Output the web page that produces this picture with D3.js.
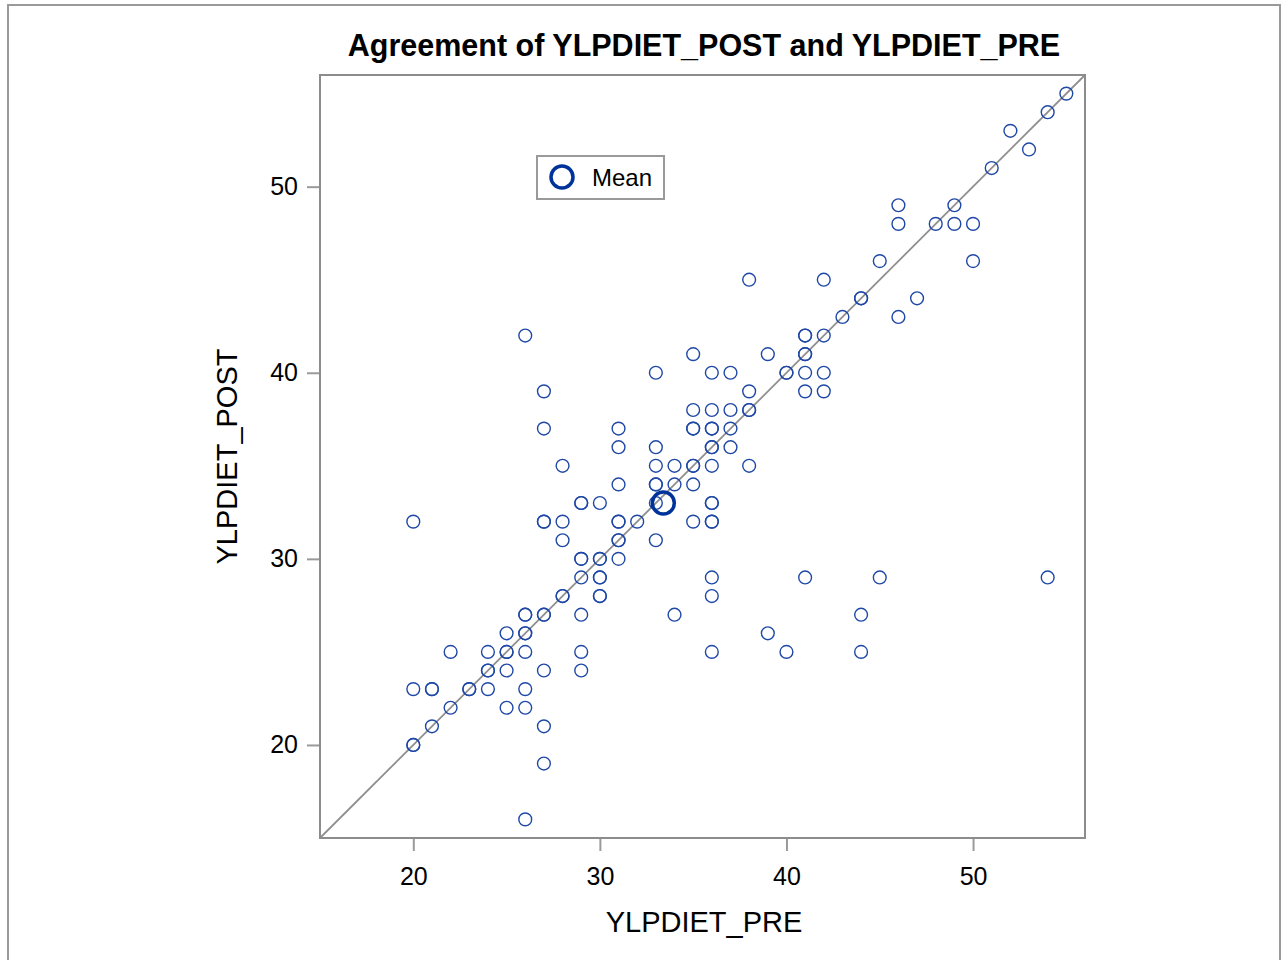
<!DOCTYPE html>
<html>
<head>
<meta charset="utf-8">
<script src="https://cdn.jsdelivr.net/npm/d3@7"></script>
<style>
  body { margin: 0; background: #fff; }
  svg text { font-family: "Liberation Sans", Arial, sans-serif; fill: #000; }
</style>
</head>
<body>
<svg id="chart" width="1288" height="960"></svg>
<script>
// values (bold rings = two overlapping subjects)
var pre = [55,54,52,53,51, 46,49, 46,48,49,50, 45,50, 38,42, 44,44,47, 43,46,
  26,41,41,42, 35,39,41,41, 33,36,37,40,40,41,42, 27,38,41,42, 35,36,37,38,38,
  27,31,35,35,36,36,37, 31,33,36,36,37, 28,33,34,35,35,36,38, 31,33,33,34,35,
  29,29,30,33,36,36, 20,27,27,28,31,31,32,35,36,36, 28,31,31,33, 29,29,30,30,31,
  29,30,30,36,41,45,54, 28,28,30,30,36, 26,26,27,27,29,34,44, 25,26,26,39,
  22,24,25,25,26,29,36,40,44, 24,24,25,27,29, 20,21,21,23,23,24,26, 22,25,26,
  21,27, 20,20, 27, 26]
var post = [55,54,53,52,51, 49,49, 48,48,48,48, 46,46, 45,45, 44,44,44, 43,43,
  42,42,42,42, 41,41,41,41, 40,40,40,40,40,40,40, 39,39,39,39, 38,38,38,38,38,
  37,37,37,37,37,37,37, 36,36,36,36,36, 35,35,35,35,35,35,35, 34,34,34,34,34,
  33,33,33,33,33,33, 32,32,32,32,32,32,32,32,32,32, 31,31,31,31, 30,30,30,30,30,
  29,29,29,29,29,29,29, 28,28,28,28,28, 27,27,27,27,27,27,27, 26,26,26,26,
  25,25,25,25,25,25,25,25,25, 24,24,24,24,24, 23,23,23,23,23,23,23, 22,22,22,
  21,21, 20,20, 19, 16]
var meanPre = [33.4]
var meanPost = [33.0]
var xTicks = [20, 30, 40, 50]
var yTicks = [20, 30, 40, 50]
var diag = [15, 56]

var svg = d3.select("#chart")
var margin = {top: 75, right: 203, bottom: 122, left: 320}
var width = 1288, height = 960

var x = d3.scaleLinear().domain([15, 56]).range([margin.left, width - margin.right])
var y = d3.scaleLinear().domain([15, 56]).range([height - margin.bottom, margin.top])

var points = pre.map((d, i) => ({pre: d, post: post[i]}))

// outer frame of the graph
svg.append("rect")
  .attr("x", 8).attr("y", 5)
  .attr("width", 1272).attr("height", 1000)
  .attr("fill", "none").attr("stroke", "#9a9a9a").attr("stroke-width", 2)

// title
svg.append("text")
  .attr("x", 704).attr("y", 56)
  .attr("text-anchor", "middle")
  .attr("font-weight", "bold")
  .attr("font-size", 30.5)
  .text("Agreement of YLPDIET_POST and YLPDIET_PRE")

// line of equality
svg.append("line")
  .attr("x1", x(diag[0])).attr("y1", y(diag[0]))
  .attr("x2", x(diag[1])).attr("y2", y(diag[1]))
  .attr("stroke", "#8f8f8f").attr("stroke-width", 1.8)

// subjects
svg.append("g")
  .selectAll("circle")
  .data(points)
  .join("circle")
    .attr("cx", d => x(d.pre))
    .attr("cy", d => y(d.post))
    .attr("r", 6.4)
    .attr("fill", "none")
    .attr("stroke", "#1f48a6")
    .attr("stroke-width", 1.4)

// mean marker
svg.append("g")
  .selectAll("circle")
  .data(meanPre)
  .join("circle")
    .attr("cx", d => x(d))
    .attr("cy", (d, i) => y(meanPost[i]))
    .attr("r", 11)
    .attr("fill", "none")
    .attr("stroke", "#003399")
    .attr("stroke-width", 3.5)

// axes
var xAxis = svg.append("g")
  .attr("transform", `translate(0,${height - margin.bottom})`)
  .call(d3.axisBottom(x).tickValues(xTicks).tickSize(13).tickPadding(16))
var yAxis = svg.append("g")
  .attr("transform", `translate(${margin.left},0)`)
  .call(d3.axisLeft(y).tickValues(yTicks).tickSize(13).tickPadding(9))

;[xAxis, yAxis].forEach(g => {
  g.select(".domain").remove()
  g.selectAll(".tick line").attr("stroke", "#9a9a9a").attr("stroke-width", 2)
  g.selectAll(".tick text").attr("font-size", 25).attr("fill", "#000")
    .attr("font-family", "Liberation Sans, Arial, sans-serif")
})

// plot frame
svg.append("rect")
  .attr("x", margin.left).attr("y", margin.top)
  .attr("width", width - margin.right - margin.left)
  .attr("height", height - margin.bottom - margin.top)
  .attr("fill", "none").attr("stroke", "#8c8c8c").attr("stroke-width", 2)

// axis labels
svg.append("text")
  .attr("x", 704).attr("y", 932)
  .attr("text-anchor", "middle")
  .attr("font-size", 29)
  .text("YLPDIET_PRE")

svg.append("text")
  .attr("transform", `translate(237,${(y(15) + y(56)) / 2}) rotate(-90)`)
  .attr("text-anchor", "middle")
  .attr("font-size", 29)
  .text("YLPDIET_POST")

// legend
var legend = svg.append("g").attr("transform", "translate(537,156)")
legend.append("rect")
  .attr("width", 127).attr("height", 43)
  .attr("fill", "#fff").attr("stroke", "#9a9a9a").attr("stroke-width", 2)
legend.append("circle")
  .attr("cx", 25).attr("cy", 21)
  .attr("r", 11)
  .attr("fill", "none").attr("stroke", "#003399").attr("stroke-width", 3.5)
legend.append("text")
  .attr("x", 55).attr("y", 30)
  .attr("font-size", 24)
  .text("Mean")
</script>
</body>
</html>
